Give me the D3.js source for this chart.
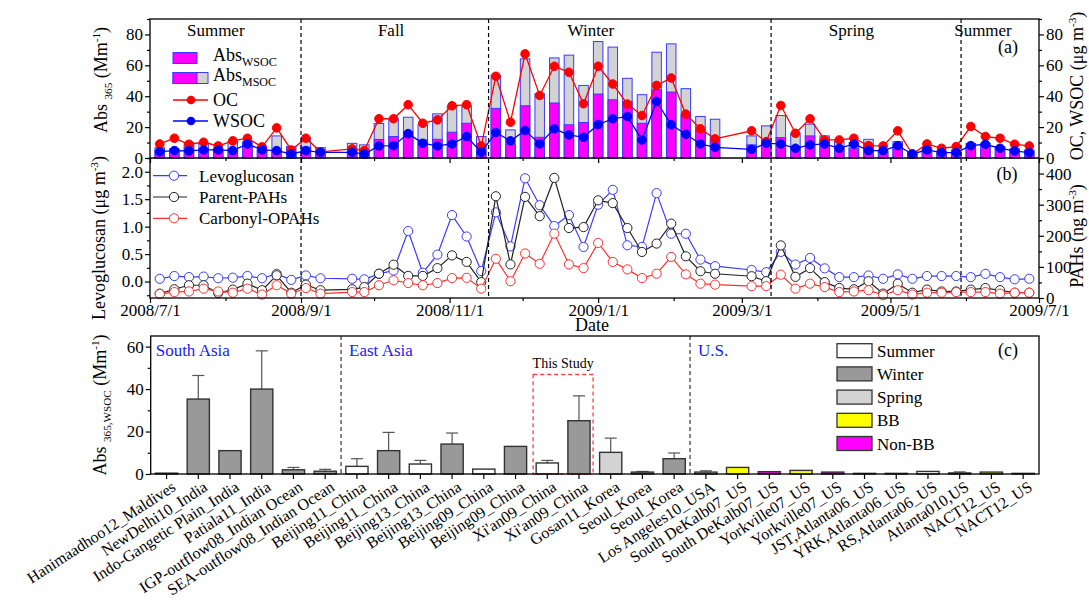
<!DOCTYPE html>
<html><head><meta charset="utf-8">
<script src="https://cdn.jsdelivr.net/npm/d3@7"></script>
<style>body{margin:0;background:#fff} svg text{font-family:"Liberation Serif","Times New Roman",serif;fill:#000}</style>
</head><body><svg id="c" width="1089" height="602" font-family="Liberation Serif, serif"></svg>
<script>
// ---------------- DATA ----------------
const dates = ["2008-07-05","2008-07-11","2008-07-17","2008-07-23","2008-07-29","2008-08-04","2008-08-10","2008-08-16","2008-08-22","2008-08-28","2008-09-03","2008-09-09","2008-09-22","2008-09-27","2008-10-03","2008-10-09","2008-10-15","2008-10-21","2008-10-27","2008-11-02","2008-11-08","2008-11-14","2008-11-20","2008-11-26","2008-12-02","2008-12-08","2008-12-14","2008-12-20","2008-12-26","2009-01-01","2009-01-07","2009-01-13","2009-01-19","2009-01-25","2009-01-31","2009-02-06","2009-02-12","2009-02-18","2009-03-05","2009-03-11","2009-03-17","2009-03-23","2009-03-29","2009-04-04","2009-04-10","2009-04-16","2009-04-22","2009-04-28","2009-05-04","2009-05-10","2009-05-16","2009-05-22","2009-05-28","2009-06-03","2009-06-09","2009-06-15","2009-06-21","2009-06-27"];
const absMSOC = [6.7,6,10,9.5,6.3,10.6,10.6,7.4,14.3,7.4,13.2,6.7,9.5,8.5,22.3,25.4,26.4,21.5,28.6,33.4,33.8,13.9,53.5,18.2,64.2,41.6,64.8,66.6,47,75.4,71.8,51.6,41,68.5,73.9,44.9,26.9,25.1,14.3,20.8,27.5,16,21.9,14.3,11.1,10,12.1,5.2,10.6,4.1,6.9,4.6,5.2,9.5,9.5,7.4,5.9,5.2];
const absWSOC = [5,5,7,6,5,6,7,5,5,4,7,4,5,4,12,13.9,17,11.7,12.1,16.7,22.5,6.3,32.1,9.1,33.8,13.4,35.6,21.5,23,41.4,37.7,36.6,22.5,44.2,42.7,28,18.2,12.8,8.5,10.6,13.2,7.4,14.3,11.7,6.3,6.3,8.5,4.1,8.9,3,4.1,3,3.5,7.4,7.4,6.3,4.8,4.1];
const oc = [9.1,12.8,8.9,10.2,7.8,11.1,12.8,7.2,19.5,5.2,12.8,4,5.9,4.8,25.4,25.4,34.5,22.5,24.7,33.8,34.5,7.8,52.9,23.2,67.4,40.5,59.4,55.5,35.1,59.4,47.9,34.9,27.5,47,51.8,28.4,18.9,12.4,17.6,10.6,34,16,25.4,11.7,11.7,12.8,8,7.8,17.6,2.6,9.1,6.3,7.4,20.4,13.9,12.8,8.9,7.8];
const wsoc = [4.1,4.8,4.6,5.2,5.2,4.8,9.1,5.2,4.8,2.6,4.8,3.7,3.7,2.6,7.8,8,15.8,9.5,7.8,9.1,13.9,3.7,16.5,11.1,17.8,9.1,18.9,15,13.4,21.7,25.4,26.9,11.7,36.6,21.5,15.4,9.1,6.9,5.6,9.5,9.1,6.3,8.5,9.1,6.3,9.1,4.8,4.8,8,2.6,5.2,3.5,3.5,8,8.9,6.3,4.6,3.5];
const levoglucosan = [0.05,0.10,0.08,0.09,0.06,0.07,0.10,0.06,0.14,0.03,0.11,0.06,0.05,0.04,0.14,0.20,0.92,0.16,0.49,1.21,0.82,0.19,1.26,0.64,1.88,1.39,1.01,1.21,0.63,1.40,1.67,0.66,0.63,1.61,0.87,0.87,0.40,0.28,0.21,0.17,0.54,0.31,0.43,0.24,0.08,0.08,0.11,0.05,0.13,0.05,0.10,0.10,0.10,0.08,0.14,0.08,0.04,0.05];
const parentPAHs = [14,28,41,41,16,27,46,25,73,17,43,25,28,35,78,107,71,71,96,137,116,51,327,108,325,263,386,225,228,314,305,225,148,175,239,134,86,78,70,54,169,68,96,51,32,28,54,14,46,17,27,21,21,27,32,25,17,17];
const carbonylOPAHs = [13,19,21,30,21,17,30,11,41,14,32,14,19,19,41,57,48,41,48,64,65,30,126,54,143,110,207,108,96,177,116,92,64,78,132,76,46,43,38,38,75,30,46,35,19,21,25,9,25,11,17,17,19,19,19,14,17,17];
const seasonLabels = ["Summer","Fall","Winter","Spring","Summer"];
const seasonLabelDates = ["2008-07-28","2008-10-08","2008-12-29","2009-04-15","2009-06-08"];
const seasonBoundaries = ["2008-09-01","2008-11-17","2009-03-13","2009-05-30"];
const dateTicks = ["2008-07-01","2008-09-01","2008-11-01","2009-01-01","2009-03-01","2009-05-01","2009-07-01"];
const dateMinorTicks = ["2008-08-01","2008-10-01","2008-12-01","2009-02-01","2009-04-01","2009-06-01"];
const absTicks = [0,20,40,60,80];
const levoTicks = [0,0.5,1,1.5,2];
const pahTicks = [0,100,200,300,400];

const studies = ["Hanimaadhoo12_Maldives","NewDelhi10_India","Indo-Gangetic Plain_India","Patiala11_India","IGP-outflow08_Indian Ocean","SEA-outflow08_Indian Ocean","Beijing11_China","Beijing11_China","Beijing13_China","Beijing13_China","Beijing09_China","Beijing09_China","Xi'an09_China","Xi'an09_China","Gosan11_Korea","Seoul_Korea","Seoul_Korea","Los Angeles10_USA","South DeKalb07_US","South DeKalb07_US","Yorkville07_US","Yorkville07_US","JST,Atlanta06_US","YRK,Atlanta06_US","RS,Atlanta06_US","Atlanta010,US","NACT12_US","NACT12_US"];
const studyValues = [0.4,35.3,11,40,2.0,1.3,3.6,11,4.7,14.1,2.3,13,5.2,25.1,10.2,0.9,7.2,0.9,3.1,1.1,1.7,0.9,0.3,0.3,1.2,0.5,0.9,0.3];
const studyErrors = [null,11.1,null,18,1.1,0.9,3.6,8.6,1.7,5.2,null,null,1.2,11.7,6.7,0.3,2.7,0.6,null,null,null,null,null,null,null,0.5,null,null];
const studyTypes = ["Winter","Winter","Winter","Winter","Winter","Winter","Summer","Winter","Summer","Winter","Summer","Winter","Summer","Winter","Spring","Winter","Winter","Spring","BB","Non-BB","BB","Non-BB","Winter","Winter","Summer","Winter","BB","Non-BB"];
const typeNames = ["Summer","Winter","Spring","BB","Non-BB"];
const regionNames = ["South Asia","East Asia","U.S."];
const regionStart = [0,6,17];
const thisStudy = [12,13];
const studyTicks = [0,20,40,60];

// ---------------- LAYOUT ----------------
const svg = d3.select("#c");
const L=150, R=1039, aTop=19, aBot=158, bTop=158, bBot=298;
const cL=150.7, cR=1039, cTop=336, cBot=474;
const parse = d3.timeParse("%Y-%m-%d");
const fmt = d3.timeFormat("%Y/%-m/%-d");
const D = dates.map(parse);
const x = d3.scaleTime().domain([parse("2008-07-01"),parse("2009-07-01")]).range([L,R]);
const ya = d3.scaleLinear().domain([0,90]).range([aBot,aTop]);
const ybL = d3.scaleLinear().domain([-0.3,2.25]).range([bBot,bTop]);
const ybR = d3.scaleLinear().domain([0,450]).range([bBot,bTop]);
const xc = d3.scaleBand().domain(d3.range(studies.length)).range([cL,cR]).paddingInner(0.3).paddingOuter(0.15);
const yc = d3.scaleLinear().domain([0,65]).range([cBot,cTop]);
const FS = 17;
const SERIF = '"Liberation Serif","Times New Roman",serif';

function axis(g, ax, major, minor, fmtF){
  const gm = g.append("g").call(ax.tickValues(major).tickSize(5).tickPadding(2).tickFormat(fmtF));
  gm.attr("font-family",null).attr("font-size",null);
  gm.select(".domain").remove();
  gm.selectAll("text").style("font-size",FS+"px").style("font-family",SERIF);
  gm.selectAll("line").attr("stroke","#000").attr("stroke-width",1.2);
  if(minor){
    const gn = g.append("g").call(ax.tickValues(minor).tickSize(3).tickFormat(""));
    gn.select(".domain").remove();
    gn.selectAll("line").attr("stroke","#000").attr("stroke-width",1.2);
  }
}

// ----- Panel (a) bars -----
const bw = 9.5;
const ga = svg.append("g");
ga.selectAll("rect.ms").data(absMSOC).join("rect")
  .attr("x",(d,i)=>x(D[i])-bw/2).attr("width",bw)
  .attr("y",d=>ya(d)).attr("height",d=>ya(0)-ya(d))
  .attr("fill","#d3d3d3").attr("stroke","#3a3aff").attr("stroke-width",1);
ga.selectAll("rect.ws").data(absWSOC).join("rect")
  .attr("x",(d,i)=>x(D[i])-bw/2).attr("width",bw)
  .attr("y",d=>ya(d)).attr("height",d=>ya(0)-ya(d))
  .attr("fill","#ff00ff").attr("stroke","#3a3aff").attr("stroke-width",1);
function lineMarks(g, vals, yS, color, r, fill, sw){
  g.append("path").datum(vals).attr("fill","none").attr("stroke",color).attr("stroke-width",sw)
    .attr("d", d3.line().x((d,i)=>x(D[i])).y(d=>yS(d)));
  g.selectAll(null).data(vals).join("circle")
    .attr("cx",(d,i)=>x(D[i])).attr("cy",d=>yS(d)).attr("r",r)
    .attr("fill",fill).attr("stroke",color).attr("stroke-width",1);
}
lineMarks(ga, oc, ya, "#ff0000", 4.3, "#ff0000", 1.3);
lineMarks(ga, wsoc, ya, "#0000ff", 4.3, "#0000ff", 1.3);

// ----- Panel (b) -----
const gb = svg.append("g");
lineMarks(gb, levoglucosan, ybL, "#3b3bff", 4.6, "#fff", 1.2);
lineMarks(gb, parentPAHs, ybR, "#222", 4.6, "#fff", 1.2);
lineMarks(gb, carbonylOPAHs, ybR, "#ff3030", 4.6, "#fff", 1.2);

// season boundaries
svg.selectAll("line.sb").data(seasonBoundaries).join("line")
  .attr("x1",d=>x(parse(d))).attr("x2",d=>x(parse(d))).attr("y1",aTop).attr("y2",bBot)
  .attr("stroke","#000").attr("stroke-width",1.2).attr("stroke-dasharray","4,3");
svg.selectAll("text.season").data(seasonLabels).join("text")
  .attr("x",(d,i)=>x(parse(seasonLabelDates[i]))).attr("y",36).attr("text-anchor","middle")
  .style("font-size","17px").text(d=>d);

// frames
svg.append("rect").attr("x",L).attr("y",aTop).attr("width",R-L).attr("height",bBot-aTop).attr("fill","none").attr("stroke","#000").attr("stroke-width",1.3);
svg.append("line").attr("x1",L).attr("x2",R).attr("y1",aBot).attr("y2",aBot).attr("stroke","#000").attr("stroke-width",1.3);

// axes a
axis(svg.append("g").attr("transform",`translate(${L},0)`), d3.axisLeft(ya), absTicks, [10,30,50,70,90], d3.format("d"));
axis(svg.append("g").attr("transform",`translate(${R},0)`), d3.axisRight(ya), absTicks, [10,30,50,70,90], d3.format("d"));
axis(svg.append("g").attr("transform",`translate(0,${aBot})`), d3.axisBottom(x), dateTicks.map(parse), dateMinorTicks.map(parse), "");
// axes b
axis(svg.append("g").attr("transform",`translate(${L},0)`), d3.axisLeft(ybL), levoTicks, [-0.25,0.25,0.75,1.25,1.75,2.25], d3.format(".1f"));
axis(svg.append("g").attr("transform",`translate(${R},0)`), d3.axisRight(ybR), pahTicks, [50,150,250,350,450], d3.format("d"));
const gxb = svg.append("g").attr("transform",`translate(0,${bBot})`);
axis(gxb, d3.axisBottom(x), dateTicks.map(parse), dateMinorTicks.map(parse), fmt);
gxb.selectAll("text").attr("y",6);
svg.append("text").attr("x",592).attr("y",331).attr("text-anchor","middle").style("font-size","18px").text("Date");

// axis titles
function title(x0,y0,parts,size){
  const t = svg.append("text").attr("transform",`translate(${x0},${y0}) rotate(-90)`).attr("text-anchor","middle").style("font-size",size+"px");
  let base=0;
  parts.forEach(p=>{
    const off = p[1]==="sub"?5:(p[1]==="sup"?-7:0);
    t.append("tspan").attr("dy",off-base).style("font-size",(p[1]?size*0.62:size)+"px").text(p[0]);
    base=off;
  });
}
title(107,80,[["Abs "],["365","sub"],[" (Mm"],["-1","sup"],[")"]],18);
title(105,238,[["Levoglucosan (μg m"],["-3","sup"],[")"]],18);
title(1083,86,[["OC, WSOC (μg m"],["-3","sup"],[")"]],18);
title(1083,236,[["PAHs (ng m"],["-3","sup"],[")"]],18);
title(106,405,[["Abs "],["365,WSOC","sub"],[" (Mm"],["-1","sup"],[")"]],18);

svg.append("text").attr("x",1008).attr("y",53).attr("text-anchor","middle").style("font-size","18px").text("(a)");
svg.append("text").attr("x",1007).attr("y",180).attr("text-anchor","middle").style("font-size","18px").text("(b)");

// legend a
const la = svg.append("g");
la.append("rect").attr("x",173).attr("y",52.5).attr("width",24).attr("height",11).attr("fill","#ff00ff").attr("stroke","#3a3aff");
la.append("rect").attr("x",173).attr("y",72.5).attr("width",35).attr("height",11).attr("fill","#d3d3d3").attr("stroke","#3a3aff");
la.append("rect").attr("x",173).attr("y",72.5).attr("width",24).attr("height",11).attr("fill","#ff00ff").attr("stroke","#3a3aff");
[[100,"#ff0000"],[121,"#0000ff"]].forEach(([yy,c])=>{
  la.append("line").attr("x1",173).attr("x2",208).attr("y1",yy).attr("y2",yy).attr("stroke",c).attr("stroke-width",1.3);
  la.append("circle").attr("cx",191).attr("cy",yy).attr("r",4.3).attr("fill",c);
});
function subText(xx,yy,main,sub){
  const t=la.append("text").attr("x",xx).attr("y",yy).style("font-size","18px");
  t.append("tspan").text(main);
  if(sub) t.append("tspan").attr("dy",5).style("font-size","12px").text(sub);
}
subText(213,61,"Abs","WSOC");
subText(213,81,"Abs","MSOC");
subText(213,106,"OC");
subText(213,127,"WSOC");

// legend b
const lbItems = [["Levoglucosan","#3b3bff"],["Parent-PAHs","#222"],["Carbonyl-OPAHs","#ff3030"]];
lbItems.forEach(([n,c],i)=>{
  const yy = 175.7 + i*21.3;
  svg.append("line").attr("x1",153).attr("x2",187).attr("y1",yy).attr("y2",yy).attr("stroke",c).attr("stroke-width",1.2);
  svg.append("circle").attr("cx",174).attr("cy",yy).attr("r",4.6).attr("fill","#fff").attr("stroke",c);
  svg.append("text").attr("x",199).attr("y",yy+6).style("font-size","17px").text(n);
});

// ----- Panel (c) -----
const typeColor = {"Summer":"#ffffff","Winter":"#999999","Spring":"#d3d3d3","BB":"#ffff00","Non-BB":"#ff00ff"};
const gc = svg.append("g");
studyErrors.forEach((e,i)=>{
  if(e==null) return;
  const cx = xc(i)+xc.bandwidth()/2;
  gc.append("line").attr("x1",cx).attr("x2",cx).attr("y1",yc(studyValues[i])).attr("y2",yc(studyValues[i]+e)).attr("stroke","#555").attr("stroke-width",1.2);
  gc.append("line").attr("x1",cx-6).attr("x2",cx+6).attr("y1",yc(studyValues[i]+e)).attr("y2",yc(studyValues[i]+e)).attr("stroke","#555").attr("stroke-width",1.2);
});
gc.selectAll("rect").data(studyValues).join("rect")
  .attr("x",(d,i)=>xc(i)).attr("width",xc.bandwidth())
  .attr("y",d=>yc(d)).attr("height",d=>yc(0)-yc(d))
  .attr("fill",(d,i)=>typeColor[studyTypes[i]]).attr("stroke","#333").attr("stroke-width",1.4);
regionStart.slice(1).forEach(s=>{
  const xx = xc(s) - xc.step()*xc.paddingInner()/2;
  svg.append("line").attr("x1",xx).attr("x2",xx).attr("y1",cTop).attr("y2",cBot).attr("stroke","#333").attr("stroke-width",1.2).attr("stroke-dasharray","4,3");
});
regionNames.forEach((n,i)=>{
  const xx = i===0? cL+5 : xc(regionStart[i]) - xc.step()*xc.paddingInner()/2 + 8;
  svg.append("text").attr("x",xx).attr("y",356).style("font-size","17px").style("fill","#1a1aff").text(n);
});
{
  const x0 = xc(thisStudy[0]) - 3, x1 = xc(thisStudy[1]) + xc.bandwidth() + 3;
  svg.append("rect").attr("x",x0).attr("y",374.5).attr("width",x1-x0).attr("height",cBot-374.5).attr("fill","none").attr("stroke","#ff4040").attr("stroke-width",1.3).attr("stroke-dasharray","4,3");
  svg.append("text").attr("x",(x0+x1)/2).attr("y",368).attr("text-anchor","middle").style("font-size","14px").text("This Study");
}
svg.append("rect").attr("x",cL).attr("y",cTop).attr("width",cR-cL).attr("height",cBot-cTop).attr("fill","none").attr("stroke","#000").attr("stroke-width",1.3);
axis(svg.append("g").attr("transform",`translate(${cL},0)`), d3.axisLeft(yc), studyTicks, [10,30,50], d3.format("d"));
const gxc = svg.append("g").attr("transform",`translate(0,${cBot})`);
const axc = gxc.append("g").call(d3.axisBottom(xc).tickSize(5).tickFormat(""));
axc.select(".domain").remove();
axc.selectAll("line").attr("stroke","#000").attr("stroke-width",1.2);
studies.forEach((s,i)=>{
  const cx = xc(i)+xc.bandwidth()/2;
  svg.append("text").attr("transform",`translate(${cx+4},${cBot+6}) rotate(-33)`).attr("text-anchor","end").attr("dy","0.72em").style("font-size","16px").text(s);
});
typeNames.forEach((n,i)=>{
  const yy = 350.7 + i*23.2;
  svg.append("rect").attr("x",837).attr("y",yy-7).attr("width",35).attr("height",14).attr("fill",typeColor[n]).attr("stroke","#333").attr("stroke-width",1.3);
  svg.append("text").attr("x",877).attr("y",yy+6).style("font-size","17px").text(n);
});
svg.append("text").attr("x",1008).attr("y",356).attr("text-anchor","middle").style("font-size","18px").text("(c)");
</script></body></html>
